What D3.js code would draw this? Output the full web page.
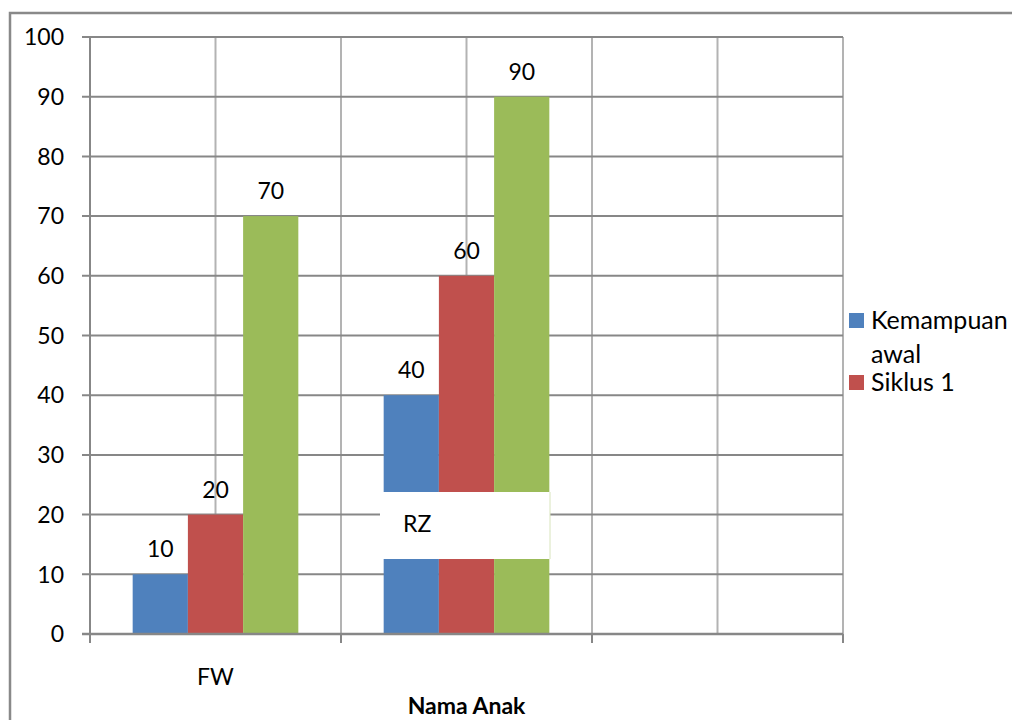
<!DOCTYPE html>
<html>
<head>
<meta charset="utf-8">
<script src="https://cdn.jsdelivr.net/npm/d3@7"></script>
<style>
  html, body { margin: 0; padding: 0; background: #fff; }
  svg { display: block; font-family: Lato, "Open Sans", sans-serif; }
</style>
</head>
<body>
<svg id="chart" width="1012" height="720"></svg>
<script>
// Category names along the x axis (third slot is left blank)
const categories = ["FW", "RZ", ""];
// Series names and their values per category
const seriesNames = ["Kemampuan awal", "Siklus 1", "Siklus 2"];
const kemampuanAwal = [10, 40, null];
const siklus1 = [20, 60, null];
const siklus2 = [70, 90, null];
const yTicks = [0, 10, 20, 30, 40, 50, 60, 70, 80, 90, 100];
const xTitle = "Nama Anak";

const seriesValues = [kemampuanAwal, siklus1, siklus2];
const colors = ["#4F81BD", "#C0504D", "#9BBB59"];

const svg = d3.select("#chart");
const plot = { left: 90, right: 843, top: 37, bottom: 634 };
const fs = 23;

// Outer chart frame
svg.append("rect")
  .attr("x", 10).attr("y", 13)
  .attr("width", 1020).attr("height", 720)
  .attr("fill", "none").attr("stroke", "#898989").attr("stroke-width", 2.5);

const x = d3.scaleBand().domain(categories).range([plot.left, plot.right]).padding(0);
const bw = x.bandwidth();
const x1 = d3.scaleBand().domain(d3.range(seriesNames.length))
  .range([bw * 0.17, bw * 0.83]).padding(0);
const y = d3.scaleLinear().domain([0, 100]).range([plot.bottom, plot.top]);

// Vertical gridlines at category edges and centres
const vLines = [];
categories.forEach(c => { vLines.push(x(c) + bw / 2); vLines.push(x(c) + bw); });
svg.append("g").selectAll("line").data(vLines).join("line")
  .attr("x1", d => d).attr("x2", d => d)
  .attr("y1", plot.top).attr("y2", plot.bottom)
  .attr("stroke", "#b3b3b3").attr("stroke-width", 2);

// Horizontal gridlines with left tick marks
svg.append("g").selectAll("line").data(yTicks.filter(t => t > 0)).join("line")
  .attr("x1", plot.left - 8).attr("x2", plot.right)
  .attr("y1", d => y(d)).attr("y2", d => y(d))
  .attr("stroke", "#878787").attr("stroke-width", 2);

// Bars
const bars = [];
categories.forEach((c, ci) => {
  seriesValues.forEach((vals, si) => {
    if (vals[ci] != null) bars.push({ c, si, v: vals[ci] });
  });
});
svg.append("g").selectAll("rect").data(bars).join("rect")
  .attr("x", d => x(d.c) + x1(d.si))
  .attr("width", x1.bandwidth())
  .attr("y", d => y(d.v))
  .attr("height", d => y(0) - y(d.v))
  .attr("fill", d => colors[d.si]);

// Value labels above bars
svg.append("g").selectAll("text").data(bars).join("text")
  .attr("x", d => x(d.c) + x1(d.si) + x1.bandwidth() / 2)
  .attr("y", d => y(d.v) - 17)
  .attr("text-anchor", "middle")
  .attr("font-size", fs).attr("fill", "#000")
  .text(d => d.v);

// Axes lines
svg.append("line")
  .attr("x1", plot.left - 8).attr("x2", plot.right)
  .attr("y1", y(0)).attr("y2", y(0))
  .attr("stroke", "#878787").attr("stroke-width", 2.5);
svg.append("line")
  .attr("x1", plot.left).attr("x2", plot.left)
  .attr("y1", plot.top).attr("y2", plot.bottom + 9)
  .attr("stroke", "#878787").attr("stroke-width", 2);
// Category boundary tick marks
svg.append("g").selectAll("line").data(categories).join("line")
  .attr("x1", d => x(d) + bw).attr("x2", d => x(d) + bw)
  .attr("y1", plot.bottom).attr("y2", plot.bottom + 9)
  .attr("stroke", "#878787").attr("stroke-width", 2);

// Y tick labels
svg.append("g").selectAll("text").data(yTicks).join("text")
  .attr("x", 64).attr("y", d => y(d))
  .attr("dy", "0.36em")
  .attr("text-anchor", "end")
  .attr("font-size", fs).attr("fill", "#000")
  .text(d => d);

// Category labels: the first sits below the axis, the second in a white box
svg.append("text")
  .attr("x", x(categories[0]) + bw / 2).attr("y", 685)
  .attr("text-anchor", "middle").attr("font-size", fs)
  .text(categories[0]);

const rzX = x(categories[1]);
svg.append("rect")
  .attr("x", rzX + 39).attr("y", 492)
  .attr("width", 170).attr("height", 67)
  .attr("fill", "#fff");
svg.append("line")
  .attr("x1", rzX + 209).attr("x2", rzX + 209)
  .attr("y1", 492).attr("y2", 559)
  .attr("stroke", "#d8e4bc").attr("stroke-width", 1);
svg.append("text")
  .attr("x", rzX + 62).attr("y", 532)
  .attr("font-size", fs)
  .text(categories[1]);

// Axis title
svg.append("text")
  .attr("x", (plot.left + plot.right) / 2).attr("y", 714)
  .attr("text-anchor", "middle")
  .attr("font-size", 23).attr("font-weight", "bold")
  .text(xTitle);

// Legend (only the first two entries fit in the frame)
const legend = svg.append("g");
const legendItems = [
  { i: 0, lines: ["Kemampuan", "awal"], y: 313 },
  { i: 1, lines: ["Siklus 1"], y: 375 }
];
legendItems.forEach(item => {
  legend.append("rect")
    .attr("x", 849).attr("y", item.y)
    .attr("width", 15).attr("height", 15)
    .attr("fill", colors[item.i]);
  item.lines.forEach((ln, k) => {
    legend.append("text")
      .attr("x", 871).attr("y", item.y + 16 + k * 34)
      .attr("font-size", 25)
      .text(ln);
  });
});
</script>
</body>
</html>
